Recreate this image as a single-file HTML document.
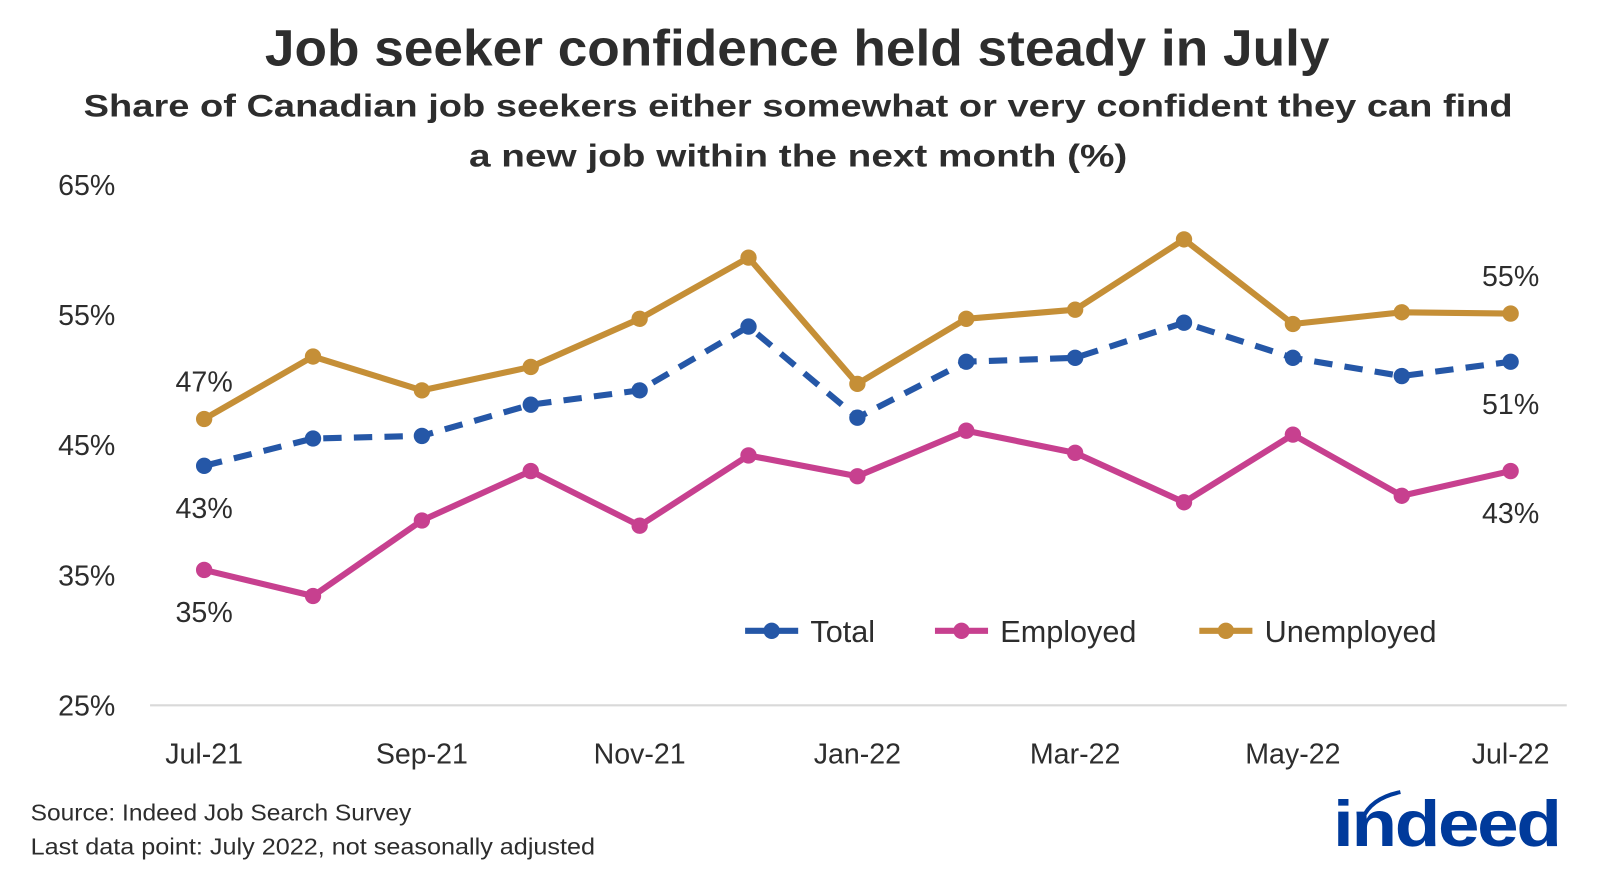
<!DOCTYPE html>
<html><head><meta charset="utf-8"><style>
body{margin:0;width:1600px;height:877px;background:#fff;overflow:hidden;font-family:"Liberation Sans","DejaVu Sans",sans-serif;color:#222}
</style></head><body>
<svg width="1600" height="877" xmlns="http://www.w3.org/2000/svg" font-family="Liberation Sans, DejaVu Sans, sans-serif">
<g transform="scale(1.0207)">
<text x="781" y="64" text-anchor="middle" font-size="50" font-weight="bold" fill="#2d2d2d" textLength="1043" lengthAdjust="spacingAndGlyphs">Job seeker confidence held steady in July</text>
<text x="782" y="114" text-anchor="middle" font-size="31" font-weight="bold" fill="#2d2d2d" textLength="1400" lengthAdjust="spacingAndGlyphs">Share of Canadian job seekers either somewhat or very confident they can find</text>
<text x="782" y="163" text-anchor="middle" font-size="31" font-weight="bold" fill="#2d2d2d" textLength="645" lengthAdjust="spacingAndGlyphs">a new job within the next month (%)</text>
<g id="axes"></g>
<g id="series"></g>
<g id="legend"></g>
<text x="30" y="804" font-size="23" fill="#2d2d2d" textLength="373" lengthAdjust="spacingAndGlyphs">Source: Indeed Job Search Survey</text>
<text x="30" y="837" font-size="23" fill="#2d2d2d" textLength="553" lengthAdjust="spacingAndGlyphs">Last data point: July 2022, not seasonally adjusted</text>
<g>
<path d="M1335 802 Q1343 782 1372 776" stroke="#003a9b" stroke-width="4" fill="none"/>
<text x="1306" y="829" font-size="64" font-weight="bold" fill="#003a9b" letter-spacing="-2" textLength="222" lengthAdjust="spacingAndGlyphs">indeed</text>
</g>
</g>
</svg>
<script>
const categories=["Jul-21","Aug-21","Sep-21","Oct-21","Nov-21","Dec-21","Jan-22","Feb-22","Mar-22","Apr-22","May-22","Jun-22","Jul-22"];
const totalValues=[43.4,45.5,45.7,48.1,49.2,54.1,47.1,51.4,51.7,54.4,51.7,50.3,51.4];
const employedValues=[35.4,33.4,39.2,43.0,38.8,44.2,42.6,46.1,44.4,40.6,45.8,41.1,43.0];
const unemployedValues=[47.0,51.8,49.2,51.0,54.7,59.4,49.7,54.7,55.4,60.8,54.3,55.2,55.1];
const yTicks=[25,35,45,55,65];
const xLabelIdx=[0,2,4,6,8,10,12];
const NS="http://www.w3.org/2000/svg";
function X(i){return 200+i*(1280/12);}
function Y(v){return 691-(v-25)*12.75;}
function mk(tag,attrs,parent){const e=document.createElementNS(NS,tag);for(const k in attrs)e.setAttribute(k,attrs[k]);parent.appendChild(e);return e;}
const axes=document.getElementById('axes'),ser=document.getElementById('series'),leg=document.getElementById('legend');
let base=mk('line',{x1:147,x2:1535,y1:Y(25),y2:Y(25),stroke:'#d9d9d9','stroke-width':2},axes);


yTicks.forEach(v=>{const t=mk('text',{x:113,y:Y(v)+10,'text-anchor':'end','font-size':28,fill:'#2d2d2d'},axes);t.textContent=v+'%';

});
xLabelIdx.forEach(i=>{const t=mk('text',{x:X(i),y:748,'text-anchor':'middle','font-size':28,fill:'#2d2d2d'},axes);t.textContent=categories[i];

});
function series(vals,color,dash,name){
  const g=mk('g',{},ser);
  
  
  const p=mk('polyline',{points:vals.map((v,i)=>X(i)+','+Y(v)).join(' '),fill:'none',stroke:color,'stroke-width':6,'stroke-linejoin':'round','stroke-dasharray':dash||'none'},g);
  
  
  vals.forEach((v,i)=>{const c=mk('circle',{cx:X(i),cy:Y(v),r:8,fill:color},g);
  
  });
}
series(unemployedValues,'#c58f37',null,'unemployed');
series(employedValues,'#c7408f',null,'employed');
series(totalValues,'#2557a7','18 12','total');
function lab(txt,x,y,n){const t=mk('text',{x:x,y:y,'text-anchor':'middle','font-size':28,fill:'#2d2d2d'},ser);t.textContent=txt;

}
const L=categories.length-1;
lab(Math.round(unemployedValues[0])+'%',X(0),Y(unemployedValues[0])-27,'label-unemployed-start');
lab(Math.round(totalValues[0])+'%',X(0),Y(totalValues[0])+51,'label-total-start');
lab(Math.round(employedValues[0])+'%',X(0),Y(employedValues[0])+51,'label-employed-start');
lab(Math.round(unemployedValues[L])+'%',X(L),Y(unemployedValues[L])-27,'label-unemployed-end');
lab(Math.round(totalValues[L])+'%',X(L),Y(totalValues[L])+51,'label-total-end');
lab(Math.round(employedValues[L])+'%',X(L),Y(employedValues[L])+51,'label-employed-end');
[['Total','#2557a7',730,'legend-total'],['Employed','#c7408f',916,'legend-employed'],['Unemployed','#c58f37',1175,'legend-unemployed']].forEach(([n,c,x,dn])=>{
  const g=mk('g',{},leg);
  
  
  mk('line',{x1:x,x2:x+52,y1:618,y2:618,stroke:c,'stroke-width':6},g);
  mk('circle',{cx:x+26,cy:618,r:8,fill:c},g);
  const t=mk('text',{x:x+64,y:629,'font-size':30,fill:'#2d2d2d'},g);t.textContent=n;
});
</script>
</body></html>
